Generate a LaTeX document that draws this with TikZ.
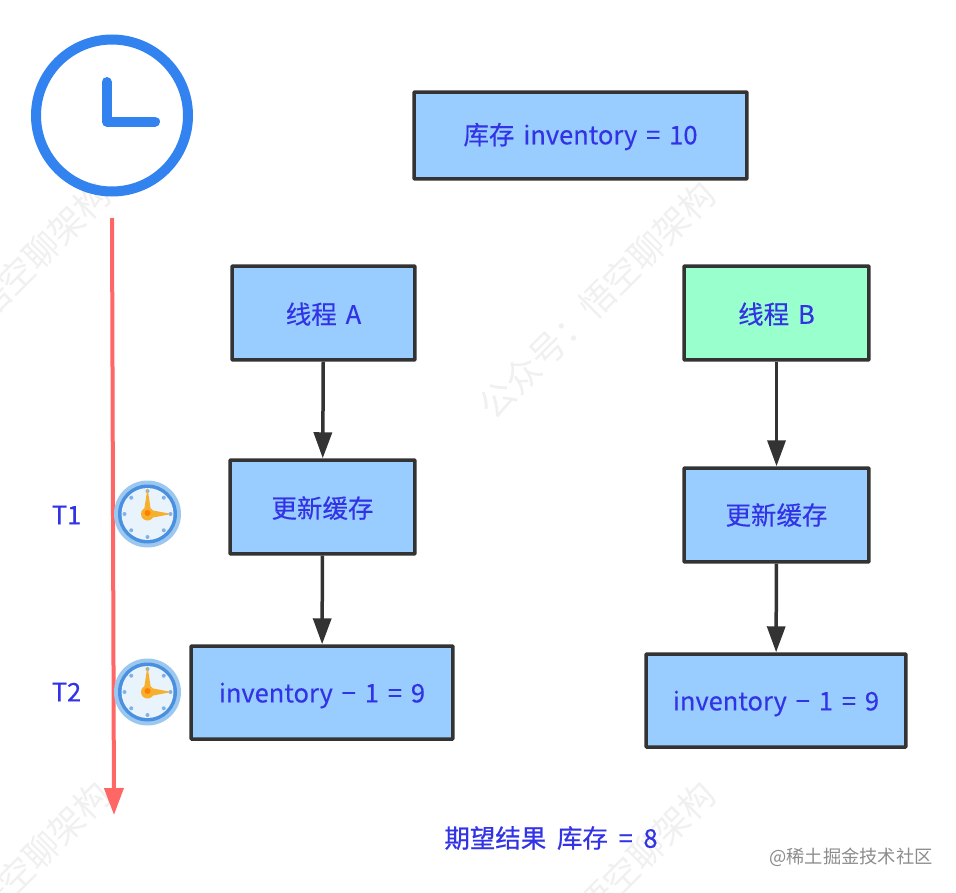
\documentclass[tikz,border=0pt]{standalone}
\usepackage{fontspec}
\setmainfont{Noto Sans CJK SC}
\newfontface\labelface{Noto Sans CJK SC}[FakeBold=0.35]
\newfontface\resultface{Noto Sans CJK SC}[FakeBold=0.6]
\usepackage{xcolor}
\usetikzlibrary{arrows.meta}
\definecolor{boxblue}{HTML}{99CCFF}
\definecolor{boxgreen}{HTML}{99FFCC}
\definecolor{boxline}{HTML}{333333}
\definecolor{textblue}{HTML}{3333E6}
\definecolor{timered}{HTML}{FF6666}
\definecolor{clockblue}{HTML}{3282F0}
\definecolor{clockring}{HTML}{4A90E0}
\definecolor{clockhalo}{HTML}{9CC8F0}
\definecolor{clockface}{HTML}{E8F3FB}
\definecolor{clockhand}{HTML}{F7B02E}
\newcommand{\boxfont}{\labelface\fontsize{14.5}{16}\selectfont\spaceskip=0.35em\relax}
\newcommand{\resultfont}{\resultface\fontsize{14.5}{16}\selectfont\spaceskip=0.42em\relax}
\newcommand{\droptext}[2]{\raisebox{-#1}[\height][\depth]{#2}}
\tikzset{
    stepbox/.style={draw=boxline, line width=0.07cm, fill=boxblue, text=textblue, font=\boxfont, inner sep=0pt, rounded corners=0.5pt},
    steparrow/.style={draw=boxline, line width=0.07cm, -{Triangle[length=0.52cm,width=0.36cm]}},
    marktext/.style={text=textblue, font=\boxfont},
    wmark/.style={text=black!6, rotate=45, font=\fontsize{20}{22}\selectfont},
    smallclock/.pic={
        \fill[clockhalo] (0,0) circle (33.5);
        \fill[clockring] (0,0) circle (29.5);
        \fill[clockface] (0,0) circle (26);
        \foreach \a in {0,45,...,315}
            \fill[clockring!70] (\a:23) circle (2);
        \fill[clockhand] (-3.5,-3) -- (0,-26) -- (3.5,-3) -- cycle;
        \fill[clockhand] (3,-4) -- (24,0) -- (3,4) -- cycle;
        \fill[clockhand] (0,0) circle (6.5);
        \fill[orange] (0,-1) circle (3);
    }
}
\begin{document}
\begin{tikzpicture}[x=0.02cm, y=-0.02cm]
    \useasboundingbox (0,0) rectangle (956,892);
    % watermarks
    \foreach \x/\y [count=\i] in {-8/300,597/300,-8/900,597/900}
        \node[wmark] (wm\i) at (\x,\y) {公众号：悟空聊架构};
    % big clock
    \draw[clockblue, line width=0.2cm] (112,115.5) circle (76);
    \draw[clockblue, line width=0.2cm, line cap=round, line join=round] (106.7,82) -- (106.7,121.6) -- (155,121.6);
    % boxes
    \node[stepbox, minimum width=6.66cm, minimum height=1.74cm] (stock) at (580.5,135.5) {\droptext{0.6pt}{库存 inventory = 10}};
    \node[stepbox, minimum width=3.66cm, minimum height=1.88cm] (threadA) at (323.5,313) {\droptext{0.6pt}{线程 A}};
    \node[stepbox, fill=boxgreen, minimum width=3.7cm, minimum height=1.88cm] (threadB) at (776.5,313) {\droptext{0.6pt}{线程 B}};
    \node[stepbox, minimum width=3.7cm, minimum height=1.88cm] (cacheA) at (322.5,507) {\droptext{0.6pt}{更新缓存}};
    \node[stepbox, minimum width=3.7cm, minimum height=1.88cm] (cacheB) at (776.5,515) {更新缓存};
    \node[stepbox, minimum width=5.24cm, minimum height=1.86cm] (invA) at (322,692.5) {\droptext{1.7pt}{inventory − 1 = 9}};
    \node[stepbox, minimum width=5.2cm, minimum height=1.86cm] (invB) at (776,700.5) {\droptext{1.7pt}{inventory − 1 = 9}};
    % arrows
    \draw[steparrow] (threadA) -- (cacheA);
    \draw[steparrow] (cacheA) -- (invA);
    \draw[steparrow] (threadB) -- (cacheB);
    \draw[steparrow] (cacheB) -- (invB);
    % timeline
    \coordinate (timetop) at (112,218);
    \coordinate (timeend) at (114,815);
    \draw[timered, line width=0.08cm, -{Triangle[length=0.54cm,width=0.38cm]}] (timetop) -- (timeend);
    \pic at (147.5,514) {smallclock};
    \pic at (147.5,692) {smallclock};
    \node[marktext] (tone) at (66.5,515) {T1};
    \node[marktext] (ttwo) at (66.5,692) {T2};
    % result
    \node[marktext, font=\resultfont] (result) at (551,838) {期望结果 库存 = 8};
    \node[text=black!45, font=\fontsize{10.4}{12}\selectfont] (site) at (851,857) {@稀土掘金技术社区};
\end{tikzpicture}
\end{document}
